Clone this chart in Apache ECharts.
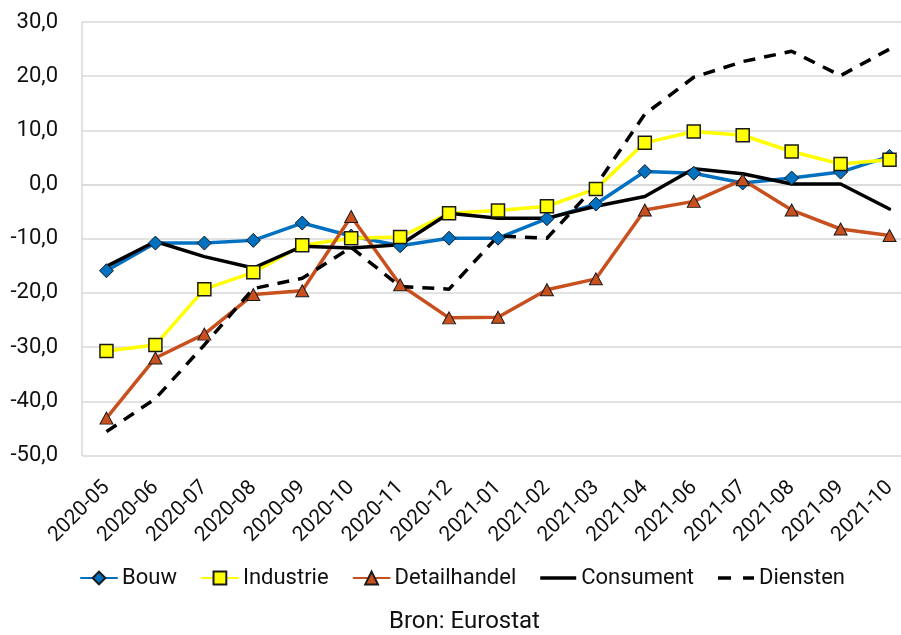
<!DOCTYPE html>
<html>
<head>
<meta charset="utf-8">
<script src="https://cdn.jsdelivr.net/npm/echarts@6/dist/echarts.min.js"></script>
<style>
  html, body { margin: 0; padding: 0; background: #fff; }
  #chart { width: 901px; height: 635px; }
</style>
</head>
<body>
<div id="chart"></div>
<script>
// Months on the horizontal axis (2021-05 is not in the series)
const months = ['2020-05','2020-06','2020-07','2020-08','2020-09','2020-10','2020-11','2020-12',
                '2021-01','2021-02','2021-03','2021-04','2021-06','2021-07','2021-08','2021-09','2021-10'];

// Confidence indicators per sector
const bouw         = [-15.9, -10.8, -10.8, -10.3,  -7.1,  -9.5, -11.3,  -9.9,  -9.9,  -6.3,  -3.6,   2.4,   2.1,   0.3,   1.2,   2.3,   5.2];
const industrie    = [-30.7, -29.6, -19.3, -16.2, -11.2,  -9.9,  -9.7,  -5.3,  -4.8,  -4.0,  -0.8,   7.7,   9.8,   9.1,   6.1,   3.8,   4.6];
const detailhandel = [-43.1, -32.0, -27.6, -20.3, -19.6,  -5.9, -18.5, -24.6, -24.5, -19.4, -17.4,  -4.7,  -3.1,   0.9,  -4.7,  -8.2,  -9.4];
const consument    = [-15.1, -10.5, -13.3, -15.4, -11.4, -11.7, -11.1,  -5.3,  -6.2,  -6.2,  -4.0,  -2.2,   2.9,   2.0,   0.1,   0.1,  -4.5];
const diensten     = [-45.6, -39.5, -29.6, -19.2, -17.3, -11.6, -18.8, -19.3,  -9.5,  -9.9,  -0.2,  13.0,  19.8,  22.7,  24.6,  20.1,  25.0];

// Value axis range
const yMin = -50, yMax = 30, yStep = 10;

const FONT = 'Roboto';
const TEXT = '#111111';
const GRID_LINE = '#d9d9d9';

// Legend glyphs for the two lines without markers (box 36 x 16)
const SOLID_ICON = 'path://M0,0L0,0M0,16L0,16M0,6.25L36,6.25L36,9.75L0,9.75Z';
const DASH_ICON  = 'path://M0,0L0,0M0,16L0,16M0,6.25L13,6.25L13,9.75L0,9.75ZM25,6.25L36,6.25L36,9.75L25,9.75Z';

const chart = echarts.init(document.getElementById('chart'), null, { renderer: 'canvas' });

function lineSeries(name, data, color, symbol, symbolSize, extra) {
  return Object.assign({
    name: name,
    type: 'line',
    data: data,
    symbol: symbol,
    symbolSize: symbolSize,
    showSymbol: symbol !== 'none',
    lineStyle: { color: color, width: 3.5, cap: 'round', join: 'round' },
    itemStyle: { color: color, borderColor: '#1a1a1a', borderWidth: 1 },
    emphasis: { disabled: true },
    animation: false
  }, extra || {});
}

chart.setOption({
  backgroundColor: '#ffffff',
  animation: false,
  textStyle: { fontFamily: FONT, color: TEXT },
  title: {
    text: 'Bron: Eurostat',
    left: 389,
    top: 610,
    padding: 0,
    textStyle: { fontFamily: FONT, fontSize: 24, fontWeight: 'normal', color: TEXT }
  },
  legend: {
    left: 80,
    top: 567,
    padding: 0,
    itemWidth: 36,
    itemHeight: 16,
    itemGap: 24,
    textStyle: { fontFamily: FONT, fontSize: 22, color: TEXT },
    data: [
      { name: 'Bouw' },
      { name: 'Industrie' },
      { name: 'Detailhandel' },
      { name: 'Consument', icon: SOLID_ICON, itemStyle: { color: '#000', borderWidth: 0 } },
      { name: 'Diensten', icon: DASH_ICON, itemStyle: { color: '#000', borderWidth: 0 } }
    ]
  },
  grid: {
    left: 82,
    top: 22,
    width: 832,
    height: 433.5,
    outerBoundsMode: 'none'
  },
  xAxis: {
    type: 'category',
    data: months,
    boundaryGap: true,
    axisLine: { show: true, lineStyle: { color: GRID_LINE, width: 1.5 } },
    axisTick: { show: false },
    axisLabel: {
      rotate: 45,
      margin: 29,
      interval: 0,
      fontFamily: FONT,
      fontSize: 21,
      color: TEXT
    },
    splitLine: { show: false }
  },
  yAxis: {
    type: 'value',
    min: yMin,
    max: yMax,
    interval: yStep,
    axisLine: { show: true, lineStyle: { color: GRID_LINE, width: 1.5 } },
    axisTick: { show: false },
    axisLabel: {
      margin: 24,
      fontFamily: FONT,
      fontSize: 22,
      color: TEXT,
      formatter: v => v.toFixed(1).replace('.', ',')
    },
    splitLine: { show: true, lineStyle: { color: GRID_LINE, width: 1.5 } }
  },
  series: [
    lineSeries('Bouw', bouw, '#0070c0', 'diamond', 14),
    lineSeries('Industrie', industrie, '#ffff00', 'rect', 13, {
      itemStyle: { color: '#ffff00', borderColor: '#1a1a1a', borderWidth: 1.5 }
    }),
    lineSeries('Detailhandel', detailhandel, '#c8501e', 'triangle', [13, 12]),
    lineSeries('Consument', consument, '#000000', 'none', 0, {
      itemStyle: { color: '#000000', borderWidth: 0 }
    }),
    lineSeries('Diensten', diensten, '#000000', 'none', 0, {
      itemStyle: { color: '#000000', borderWidth: 0 },
      lineStyle: { color: '#000000', width: 3.5, type: [12, 9], cap: 'butt', join: 'round' }
    })
  ]
});
</script>
</body>
</html>
